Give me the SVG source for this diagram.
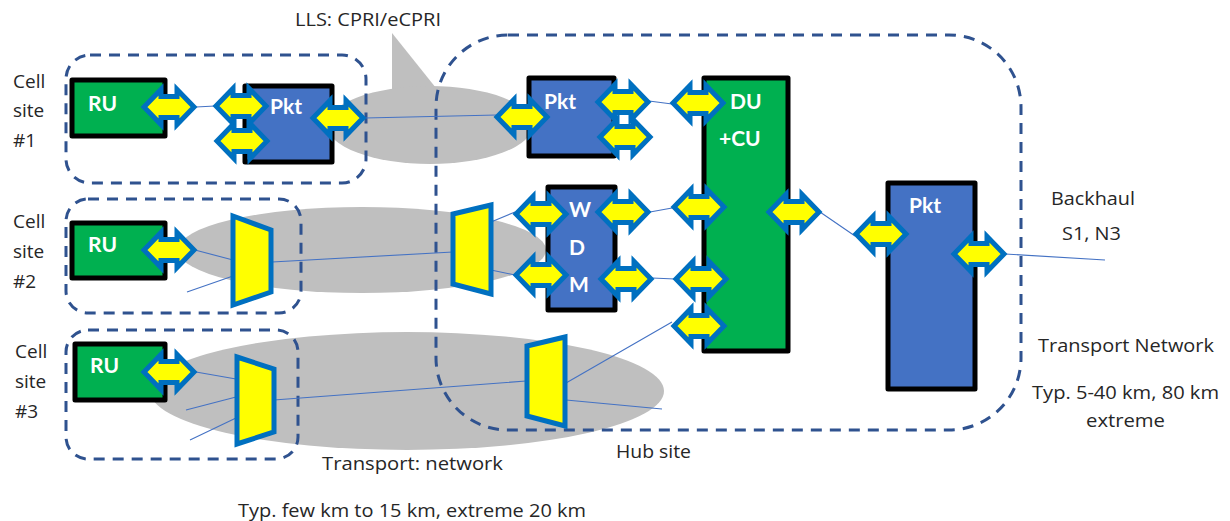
<svg xmlns="http://www.w3.org/2000/svg" width="1230" height="521" viewBox="0 0 1230 521">
<style>
text{font-family:"Open Sans","Noto Sans","Liberation Sans",sans-serif;font-size:19px;fill:#262626}
.w{fill:#fff;font-family:"Lato","Open Sans",sans-serif;font-weight:700;font-size:21px}
.box{stroke:#000;stroke-width:5;stroke-linejoin:round}
.g{fill:#00b050}.b{fill:#4472c4}
.zone{fill:none;stroke:#2f528f;stroke-width:3;stroke-dasharray:11 8}
.cloud{fill:#bfbfbf}
.trap{fill:#ff0;stroke:#0070c0;stroke-width:5}
.dbl{fill:#ff0;stroke:#0070c0;stroke-width:5;stroke-miterlimit:8}
.ln{fill:none;stroke:#4472c4;stroke-width:1.1}
</style>
<defs>
<path id="dbl" class="dbl" d="M-25 0L-8 -17.5V-10.5H8V-17.5L25 0L8 17.5V10.5H-8V17.5Z"/>
</defs>
<g id="clouds">
<path class="cloud" d="M392 33L436 88L392 90Z"/>
<ellipse class="cloud" cx="430" cy="125" rx="103" ry="39"/>
<ellipse class="cloud" cx="362" cy="250" rx="184" ry="43"/>
<ellipse class="cloud" cx="407" cy="391" rx="257" ry="59"/>
</g>
<g id="zones">
<rect class="zone" x="66" y="55" width="300" height="128" rx="24"/>
<rect class="zone" x="66" y="199" width="235" height="114" rx="22"/>
<rect class="zone" x="66" y="330" width="232" height="129" rx="22"/>
<rect class="zone" x="436" y="35" width="585" height="395" rx="72"/>
</g>
<g id="connectors">
<path class="ln" d="M196 107L215 106M365 118L497 115M649 101L672 104M650 212L672 208M652 278L675 279M820 212L855 236M1005 254L1105 260"/>
<path class="ln" d="M195 250L233 260M187 292L233 276M272 262L453 252M491 222L515 212M491 270L515 275"/>
<path class="ln" d="M196 372L236 379M186 410L236 397M190 440L236 418M274 400L526 381M566 383L672 322M566 400L662 409"/>
</g>
<g id="ru1"><rect class="box g" x="72" y="80" width="93" height="56"/><text class="w" x="88" y="111">RU</text></g>
<g id="ru2"><rect class="box g" x="72" y="223" width="93" height="55"/><text class="w" x="88" y="252">RU</text></g>
<g id="ru3"><rect class="box g" x="75" y="344" width="90" height="56"/><text class="w" x="90" y="373">RU</text></g>
<g id="pkt1"><rect class="box b" x="245" y="86" width="87" height="76"/><text class="w" x="270" y="114">Pkt</text></g>
<g id="pkt2"><rect class="box b" x="529" y="78" width="85" height="78"/><text class="w" x="544" y="109">Pkt</text></g>
<g id="wdm"><rect class="box b" x="548" y="187" width="67" height="123"/><text class="w" x="569" y="217">W</text><text class="w" x="569" y="255">D</text><text class="w" x="569" y="292">M</text></g>
<g id="ducu"><rect class="box g" x="704" y="78" width="84" height="273"/><text class="w" x="730" y="109">DU</text><text class="w" x="719" y="146">+CU</text></g>
<g id="pkt3"><rect class="box b" x="888" y="183" width="87" height="206"/><text class="w" x="909" y="213">Pkt</text></g>
<g id="mux2a"><polygon class="trap" points="233,216 271,230 271,292 233,305"/></g>
<g id="mux2b"><polygon class="trap" points="453,214 491,205 491,294 453,284"/></g>
<g id="mux3a"><polygon class="trap" points="237,357 274,369 274,432 237,444"/></g>
<g id="mux3b"><polygon class="trap" points="527,346 565,337 565,426 527,416"/></g>
<g id="arrows">
<use href="#dbl" x="169" y="107"/><use href="#dbl" x="241" y="106"/><use href="#dbl" x="242" y="141"/><use href="#dbl" x="338" y="118"/>
<use href="#dbl" x="522" y="117"/><use href="#dbl" x="623" y="102"/><use href="#dbl" x="625" y="137"/><use href="#dbl" x="698" y="103"/>
<use href="#dbl" x="541" y="214"/><use href="#dbl" x="623" y="212"/><use href="#dbl" x="699" y="207"/><use href="#dbl" x="794" y="212"/>
<use href="#dbl" x="541" y="275"/><use href="#dbl" x="626" y="279"/><use href="#dbl" x="701" y="279"/><use href="#dbl" x="699" y="326"/>
<use href="#dbl" x="881" y="234"/><use href="#dbl" x="979" y="254"/>
<use href="#dbl" x="169" y="250"/><use href="#dbl" x="169" y="372"/>
</g>
<g id="labels">
<text x="13" y="88">Cell</text><text x="13" y="117">site</text><text x="13" y="147">#1</text>
<text x="13" y="228">Cell</text><text x="13" y="258">site</text><text x="13" y="288">#2</text>
<text x="15" y="358">Cell</text><text x="15" y="388">site</text><text x="15" y="418">#3</text>
<text x="295" y="26" textLength="146" lengthAdjust="spacingAndGlyphs">LLS: CPRI/eCPRI</text>
<text x="1051" y="205" textLength="84" lengthAdjust="spacingAndGlyphs">Backhaul</text>
<text x="1062" y="240" textLength="59" lengthAdjust="spacingAndGlyphs">S1, N3</text>
<text x="1038" y="352" textLength="176" lengthAdjust="spacingAndGlyphs">Transport Network</text>
<text x="1032" y="399" textLength="187" lengthAdjust="spacingAndGlyphs">Typ. 5-40 km, 80 km</text>
<text x="1086" y="427" textLength="79" lengthAdjust="spacingAndGlyphs">extreme</text>
<text x="616" y="458" textLength="75" lengthAdjust="spacingAndGlyphs">Hub site</text>
<text x="322" y="470" textLength="181" lengthAdjust="spacingAndGlyphs">Transport: network</text>
<text x="238" y="517" textLength="348" lengthAdjust="spacingAndGlyphs">Typ. few km to 15 km, extreme 20 km</text>
</g>
</svg>
